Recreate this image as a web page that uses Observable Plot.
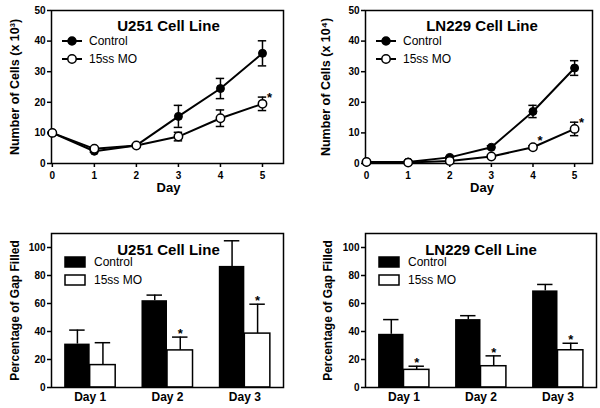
<!DOCTYPE html>
<html><head><meta charset="utf-8">
<script src="https://cdn.jsdelivr.net/npm/d3@7"></script>
<script src="https://cdn.jsdelivr.net/npm/@observablehq/plot@0.6"></script>
<style>
body{margin:0;background:#fff;font-family:"Liberation Sans",Arial,sans-serif;}
#wrap{position:relative;width:600px;height:408px;overflow:hidden;}
.panel{position:absolute;}
.panel svg{display:block;}
</style></head><body><div id="wrap"></div>
<script>
// ---------- data ----------
const seriesNames = ["Control", "15ss MO"];
const days = [0, 1, 2, 3, 4, 5];

// U251 growth (x 10^3 cells)
const u251Ctrl    = [10, 4.0, 5.9, 15.4, 24.5, 36.0];
const u251CtrlErr = [0.3, 0.3, 0.3, 3.6, 3.3, 4.1];
const u251MO      = [10, 4.8, 5.9, 8.8, 14.8, 19.5];
const u251MOErr   = [0.3, 0.3, 0.3, 1.4, 2.7, 2.2];
const u251LineSig = [5];

// LN229 growth (x 10^4 cells)
const ln229Ctrl    = [0.5, 0.5, 2.0, 5.3, 17.0, 31.2];
const ln229CtrlErr = [0.2, 0.2, 0.3, 0.5, 2.0, 2.4];
const ln229MO      = [0.5, 0.3, 0.8, 2.3, 5.3, 11.3];
const ln229MOErr   = [0.2, 0.2, 0.2, 0.3, 0.5, 2.2];
const ln229LineSig = [4, 5];

// Wound-healing (% gap filled)
const dayLabels = ["Day 1", "Day 2", "Day 3"];
const u251GapCtrl    = [31, 62, 86.5];
const u251GapCtrlErr = [10, 4, 18.3];
const u251GapMO      = [16, 26.5, 38.5];
const u251GapMOErr   = [16, 9.5, 21];
const u251GapSig     = [1, 2];

const ln229GapCtrl    = [38, 48.5, 69];
const ln229GapCtrlErr = [10.5, 2.8, 4.6];
const ln229GapMO      = [12.6, 15.2, 26.6];
const ln229GapMOErr   = [2.6, 7.4, 5];
const ln229GapSig     = [0, 1, 2];

// ---------- helpers ----------
const FONT = "'Liberation Sans', Arial, Helvetica, sans-serif";

function lineLegend() {
  return (index, scales, values, dim) => {
    const g = d3.create("svg:g").attr("transform", `translate(${dim.marginLeft},${dim.marginTop})`);
    seriesNames.forEach((name, i) => {
      const y = 31 + 18 * i;
      g.append("line").attr("x1", 11).attr("x2", 31).attr("y1", y).attr("y2", y)
        .attr("stroke", "black").attr("stroke-width", 2);
      g.append("circle").attr("cx", 21).attr("cy", y).attr("r", i ? 4.2 : 4)
        .attr("fill", i ? "white" : "black").attr("stroke", "black").attr("stroke-width", 1.5);
      g.append("text").attr("x", 38).attr("y", y).attr("dy", "0.35em").attr("text-anchor", "start")
        .attr("font-size", 12).attr("font-weight", "normal").attr("fill", "black").text(name);
    });
    return g.node();
  };
}

function barLegend() {
  return (index, scales, values, dim) => {
    const g = d3.create("svg:g").attr("transform", `translate(${dim.marginLeft},${dim.marginTop})`);
    seriesNames.forEach((name, i) => {
      const y = 29 + 18 * i;
      g.append("rect").attr("x", 14).attr("y", y - 5).attr("width", 20).attr("height", 10)
        .attr("fill", i ? "white" : "black").attr("stroke", "black").attr("stroke-width", 1.5);
      g.append("text").attr("x", 43).attr("y", y).attr("dy", "0.35em").attr("text-anchor", "start")
        .attr("font-size", 12).attr("font-weight", "normal").attr("fill", "black").text(name);
    });
    return g.node();
  };
}

function linePanel(o) {
  const C = days.map((d, i) => ({day: d, v: o.ctrl[i], e: o.ctrlErr[i]}));
  const M = days.map((d, i) => ({day: d, v: o.mo[i], e: o.moErr[i]}));
  const errMarks = (rows) => [
    Plot.ruleX(rows, {x: "day", y1: d => d.v - d.e, y2: d => d.v + d.e, stroke: "black", strokeWidth: 1.5}),
    Plot.ruleY(rows, {y: d => d.v + d.e, x1: d => d.day - 0.1, x2: d => d.day + 0.1, stroke: "black", strokeWidth: 1.5}),
    Plot.ruleY(rows, {y: d => d.v - d.e, x1: d => d.day - 0.1, x2: d => d.day + 0.1, stroke: "black", strokeWidth: 1.5})
  ];
  return Plot.plot({
    width: 300, height: 200,
    marginTop: 10, marginBottom: 37, marginLeft: o.ml, marginRight: o.mr,
    style: {fontFamily: FONT, background: "white", color: "black", overflow: "visible"},
    x: {domain: o.xdomain},
    y: {domain: [0, 50]},
    marks: [
      Plot.axisY({ticks: [0, 10, 20, 30, 40, 50], tickSize: 4, tickPadding: 2, fontSize: 10, fontWeight: "bold", label: null, strokeWidth: 1.5}),
      Plot.axisX({ticks: days, tickSize: 4, tickPadding: 4, fontSize: 10, fontWeight: "bold", label: null, tickFormat: d3.format("d"), strokeWidth: 1.5}),
      Plot.frame({stroke: "black", strokeWidth: 1.5}),
      Plot.line(C, {x: "day", y: "v", stroke: "black", strokeWidth: 2}),
      ...errMarks(C),
      Plot.dot(C, {x: "day", y: "v", r: 4, fill: "black", stroke: "black", strokeWidth: 1}),
      Plot.line(M, {x: "day", y: "v", stroke: "black", strokeWidth: 2}),
      ...errMarks(M),
      Plot.dot(M, {x: "day", y: "v", r: 4.2, fill: "white", stroke: "black", strokeWidth: 1.5}),
      Plot.text(M.filter(d => o.sig.includes(d.day)), {x: "day", y: "v", text: () => "*", dx: 7, dy: -6, fontSize: 13, fontWeight: "bold"}),
      Plot.text([o.title], {frameAnchor: "top", dy: 10, dx: o.titleDx, fontSize: 15, fontWeight: "bold"}),
      Plot.text(["Day"], {frameAnchor: "bottom", dy: 28, dx: o.titleDx, fontSize: 13, fontWeight: "bold"}),
      Plot.text([o.ylabel], {frameAnchor: "left", textAnchor: "middle", rotate: -90, dx: o.ylabelDx, fontSize: 12.5, fontWeight: "bold"}),
      lineLegend()
    ]
  });
}

function barPanel(o) {
  const W = 0.33;
  const C = dayLabels.map((d, i) => ({i, v: o.ctrl[i], e: o.ctrlErr[i], x1: i + 0.5 - W, x2: i + 0.5}));
  const M = dayLabels.map((d, i) => ({i, v: o.mo[i], e: o.moErr[i], x1: i + 0.5, x2: i + 0.5 + W}));
  const errMarks = (rows) => [
    Plot.ruleX(rows, {x: d => (d.x1 + d.x2) / 2, y1: "v", y2: d => d.v + d.e, stroke: "black", strokeWidth: 1.5}),
    Plot.ruleY(rows, {y: d => d.v + d.e, x1: d => (d.x1 + d.x2) / 2 - 0.1, x2: d => (d.x1 + d.x2) / 2 + 0.1, stroke: "black", strokeWidth: 1.5})
  ];
  return Plot.plot({
    width: 300, height: 208,
    marginTop: 33, marginBottom: 21, marginLeft: o.ml, marginRight: o.mr,
    style: {fontFamily: FONT, background: "white", color: "black", overflow: "visible"},
    x: {domain: [0, 3]},
    y: {domain: [0, 110]},
    marks: [
      Plot.axisY({ticks: [0, 20, 40, 60, 80, 100], tickSize: 4, tickPadding: 2, fontSize: 10, fontWeight: "bold", label: null, strokeWidth: 1.5}),
      Plot.axisX({ticks: [0.5, 1.5, 2.5], tickSize: 0, tickPadding: 5, fontSize: 12, fontWeight: "bold", label: null, tickFormat: d => dayLabels[Math.floor(d)]}),
      Plot.rectY(C, {x1: "x1", x2: "x2", y: "v", fill: "black"}),
      ...errMarks(C),
      ...errMarks(M),
      Plot.rectY(M, {x1: "x1", x2: "x2", y: "v", fill: "white", stroke: "black", strokeWidth: 1.5}),
      Plot.text(M.filter(d => o.sig.includes(d.i)), {x: d => (d.x1 + d.x2) / 2, y: d => d.v + d.e, text: () => "*", dy: -3, fontSize: 13, fontWeight: "bold"}),
      Plot.frame({stroke: "black", strokeWidth: 1.5}),
      Plot.text([o.title], {frameAnchor: "top", dy: 11, dx: o.titleDx, fontSize: 15, fontWeight: "bold"}),
      Plot.text(["Percentage of Gap Filled"], {frameAnchor: "left", textAnchor: "middle", rotate: -90, dx: o.ylabelDx, fontSize: 12, fontWeight: "bold"}),
      barLegend()
    ]
  });
}

// ---------- layout ----------
const wrap = document.getElementById("wrap");
function place(node, left, top) {
  const div = document.createElement("div");
  div.className = "panel";
  div.style.left = left + "px";
  div.style.top = top + "px";
  div.appendChild(node);
  wrap.appendChild(div);
}

place(linePanel({title: "U251 Cell Line", ctrl: u251Ctrl, ctrlErr: u251CtrlErr, mo: u251MO, moErr: u251MOErr,
  sig: u251LineSig, ylabel: "Number of Cells (x 10³)", ml: 51, mr: 17, xdomain: [-0.02, 5.5], ylabelDx: -37, titleDx: 1}), 0, 0);
place(linePanel({title: "LN229 Cell Line", ctrl: ln229Ctrl, ctrlErr: ln229CtrlErr, mo: ln229MO, moErr: ln229MOErr,
  sig: ln229LineSig, ylabel: "Number of Cells (x 10⁴)", ml: 65, mr: 8, xdomain: [-0.025, 5.43], ylabelDx: -40, titleDx: 3}), 300, 0);
place(barPanel({title: "U251 Cell Line", ctrl: u251GapCtrl, ctrlErr: u251GapCtrlErr, mo: u251GapMO, moErr: u251GapMOErr,
  sig: u251GapSig, ml: 51, mr: 17, ylabelDx: -36, titleDx: 1}), 0, 200);
place(barPanel({title: "LN229 Cell Line", ctrl: ln229GapCtrl, ctrlErr: ln229GapCtrlErr, mo: ln229GapMO, moErr: ln229GapMOErr,
  sig: ln229GapSig, ml: 65, mr: 4, ylabelDx: -37, titleDx: 0}), 300, 200);
</script>
</body></html>
